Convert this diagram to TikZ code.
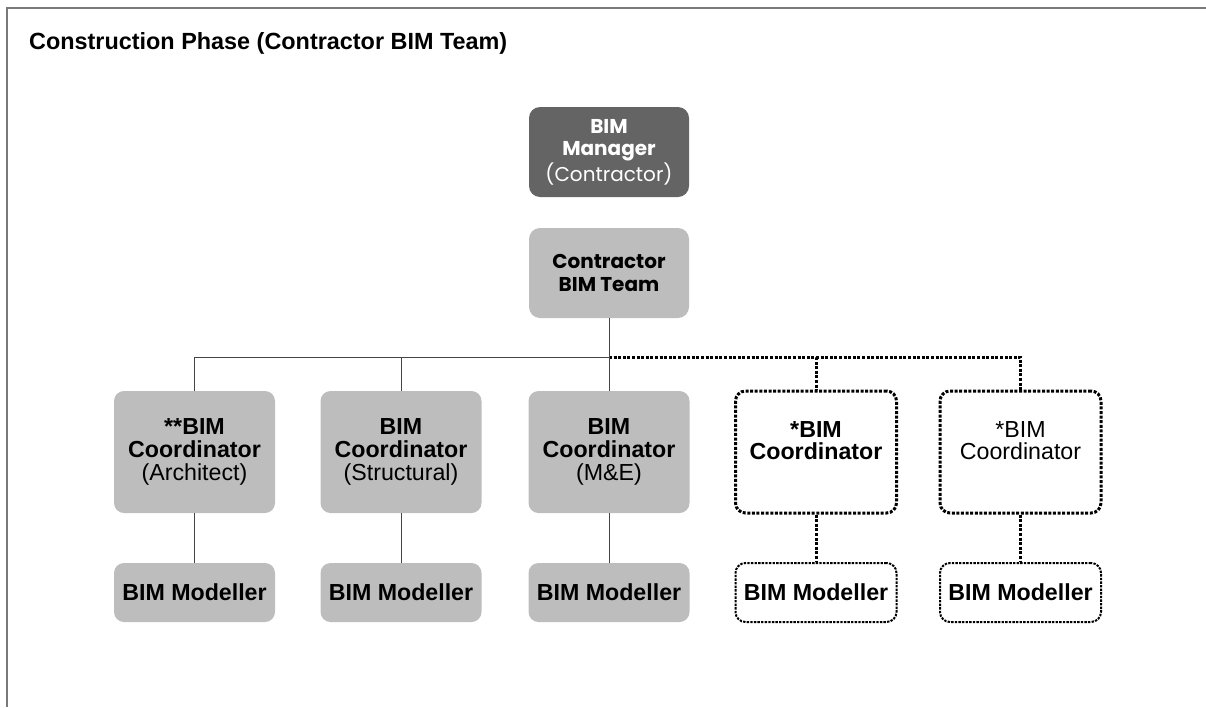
\documentclass[tikz,border=0pt]{standalone}
\usepackage{fontspec}
\setmainfont{Liberation Sans}
\newfontfamily\popfont{Poppins}
\definecolor{boxgray}{HTML}{BDBDBD}
\definecolor{darkbox}{HTML}{646464}
\definecolor{framegray}{HTML}{7A7A7A}
\definecolor{linegray}{HTML}{444444}

\begin{document}
\begin{tikzpicture}[x=1pt, y=-1pt,
  topbox/.style={rounded corners=11pt, minimum width=160pt, minimum height=90pt,
    align=center, font=\popfont\fontsize{20}{22.5}\selectfont},
  coord/.style={rounded corners=10pt, minimum width=161pt, minimum height=122pt,
    align=center, font=\fontsize{23.2}{22.8}\selectfont},
  modeller/.style={rounded corners=10pt, minimum width=161pt, minimum height=59pt,
    align=center, font=\bfseries\fontsize{23.2}{23}\selectfont},
  conn/.style={linegray, line width=1pt},
  dotconn/.style={black, line width=3pt, dash pattern=on 3pt off 1.6pt},
  dotbox/.style={draw=black, line width=3pt, dash pattern=on 3pt off 1.6pt},
  dotsmall/.style={draw=black, line width=2pt, dash pattern=on 2.4pt off 1.2pt}]
\useasboundingbox (0,0) rectangle (1206,707);

% frame and title
\draw[framegray, line width=1.5pt] (7,707) -- (7,8) -- (1206,8);
\node[anchor=base west, inner sep=0pt, font=\bfseries\fontsize{23.4}{26}\selectfont] (title) at (29,49)
  {Construction Phase (Contractor BIM Team)};

% management
\node[topbox, fill=darkbox, text=white] (mgr) at (609,152)
  {\textbf{BIM}\\\textbf{Manager}\\(Contractor)};
\node[topbox, fill=boxgray, font=\popfont\bfseries\fontsize{20}{22.5}\selectfont] (team) at (609,273)
  {Contractor\\BIM Team};

% coordinators
\node[coord, fill=boxgray] (arch) at (194.5,452) {\textbf{**BIM}\\\textbf{Coordinator}\\(Architect)};
\node[coord, fill=boxgray] (str) at (401,452) {\textbf{BIM}\\\textbf{Coordinator}\\(Structural)};
\node[coord, fill=boxgray] (me) at (609,452) {\textbf{BIM}\\\textbf{Coordinator}\\(M\&E)};
\node[coord, dotbox] (opta) at (816,452) {\textbf{*BIM}\\\textbf{Coordinator}\\~};
\node[coord, dotbox] (optb) at (1020.5,452) {*BIM\\Coordinator\\~};

% modellers
\node[modeller, fill=boxgray] (archmod) at (194.5,592.5) {BIM Modeller};
\node[modeller, fill=boxgray] (strmod) at (401,592.5) {BIM Modeller};
\node[modeller, fill=boxgray] (memod) at (609,592.5) {BIM Modeller};
\node[modeller, dotsmall] (optamod) at (816,592.5) {BIM Modeller};
\node[modeller, dotsmall] (optbmod) at (1020.5,592.5) {BIM Modeller};

% connectors
\coordinate (bus) at (609,357);
\draw[dotconn] (bus) -| (opta.north);
\draw[dotconn] (bus) -| (optb.north);
\draw[conn] (team) -- (bus);
\draw[conn] (arch.north) |- (bus);
\draw[conn] (str.north) -- (str.north |- bus);
\draw[conn] (me) -- (bus);
\draw[conn] (arch) -- (archmod);
\draw[conn] (str) -- (strmod);
\draw[conn] (me) -- (memod);
\draw[dotconn] (opta) -- (optamod);
\draw[dotconn] (optb) -- (optbmod);
\end{tikzpicture}
\end{document}
